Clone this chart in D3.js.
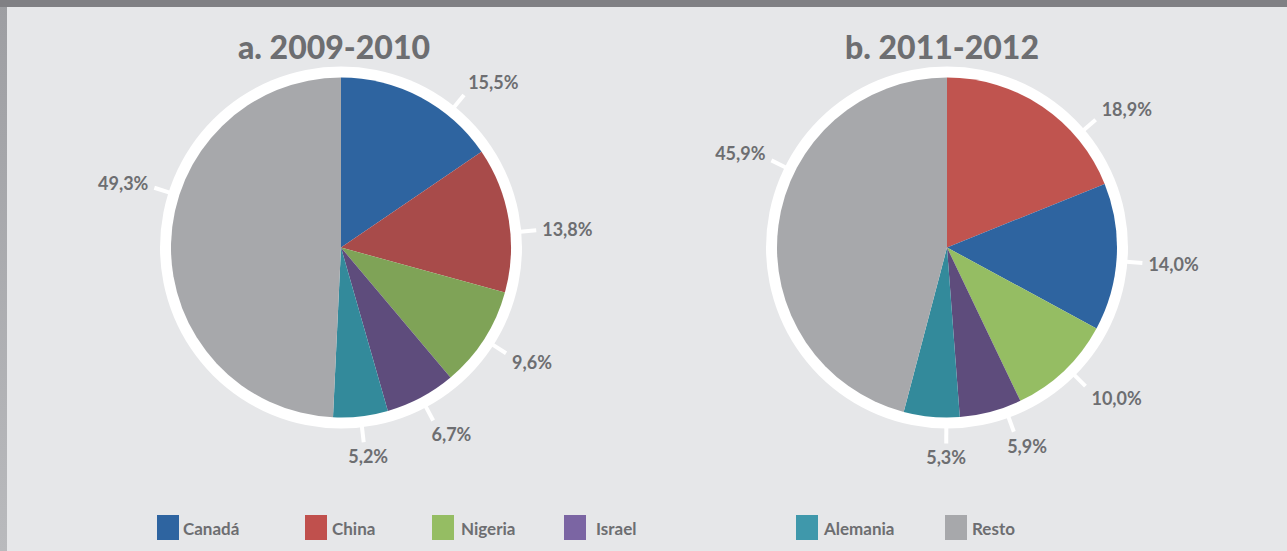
<!DOCTYPE html>
<html><head><meta charset="utf-8">
<script src="https://cdn.jsdelivr.net/npm/d3@7"></script>
<style>
html,body{margin:0;padding:0;background:#e6e7e9;}
svg{display:block;}
</style></head>
<body>
<svg id="chart" width="1287" height="551"></svg>
<script>
// ---- data ----
const categories = ["Canadá", "China", "Nigeria", "Israel", "Alemania", "Resto"];
const titleA = "a. 2009-2010";
const titleB = "b. 2011-2012";
// order of slices (clockwise from top) in each pie
const orderA = ["Canadá", "China", "Nigeria", "Israel", "Alemania", "Resto"];
const valuesA = [15.5, 13.8, 9.6, 6.7, 5.2, 49.3];
const labelsA = ["15,5%", "13,8%", "9,6%", "6,7%", "5,2%", "49,3%"];
const orderB = ["China", "Canadá", "Nigeria", "Israel", "Alemania", "Resto"];
const valuesB = [18.9, 14.0, 10.0, 5.9, 5.3, 45.9];
const labelsB = ["18,9%", "14,0%", "10,0%", "5,9%", "5,3%", "45,9%"];

// ---- styles / layout ----
const legendColors = {"Canadá":"#2e64a0","China":"#c0504d","Nigeria":"#95bd63","Israel":"#7b65a3","Alemania":"#3f98ab","Resto":"#a7a8ab"};
const colorsA = {"Canadá":"#2e64a0","China":"#a84b4a","Nigeria":"#7fa357","Israel":"#5e4c7c","Alemania":"#338a9b","Resto":"#a7a8ab"};
const colorsB = {"Canadá":"#2e64a0","China":"#c0544f","Nigeria":"#95bd63","Israel":"#5e4c7c","Alemania":"#338a9b","Resto":"#a7a8ab"};
const tickNudgeA = [11, 4.4, 0, 0, 0, 16.4];   // degrees, label tick offset from slice middle
const tickNudgeB = [15.3, 1.3, -1.4, -5, -5, 19];
const legendX = [157, 305, 432, 564, 796, 945];
const legendTextX = [183, 332, 461, 596, 824, 972];
const textColor = "#6d6e71";
const FONT = "Lato, 'Open Sans', sans-serif";

const svg = d3.select("#chart");
svg.append("rect").attr("width",1287).attr("height",551).attr("fill","#e6e7e9");
const grad = svg.append("defs").append("linearGradient").attr("id","lg").attr("x1",0).attr("x2",0).attr("y1",0).attr("y2",1);
grad.append("stop").attr("offset","0%").attr("stop-color","#9d9ea2");
grad.append("stop").attr("offset","100%").attr("stop-color","#b9babd");
svg.append("rect").attr("x",0).attr("y",0).attr("width",7).attr("height",551).attr("fill","url(#lg)");
svg.append("rect").attr("x",0).attr("y",0).attr("width",1287).attr("height",7).attr("fill","#808084");

const R = 170, RING = 181, TICK_END = 196;

function drawPie(cx, cy, title, titleX, order, values, labels, colors, nudge){
  const g = svg.append("g").attr("transform",`translate(${cx},${cy})`);
  svg.append("text").attr("x",titleX).attr("y",59).attr("text-anchor","middle")
    .attr("font-family",FONT).attr("font-weight",900).attr("font-size",32)
    .attr("fill",textColor).text(title);
  g.append("circle").attr("r",RING).attr("fill","#ffffff");
  const data = order.map((c,i)=>({cat:c, v:values[i], label:labels[i], nudge:nudge[i]}));
  const pie = d3.pie().value(d=>d.v).sort(null);
  const arc = d3.arc().innerRadius(0).outerRadius(R);
  const arcs = pie(data);
  g.selectAll("path.slice").data(arcs).join("path").attr("class","slice")
    .attr("d",arc).attr("fill",d=>colors[d.data.cat]);
  arcs.forEach(a=>{
    const th = (a.startAngle + a.endAngle)/2 + a.data.nudge*Math.PI/180;
    const s = Math.sin(th), c = -Math.cos(th);
    g.append("line").attr("x1",s*(RING-1)).attr("y1",c*(RING-1))
      .attr("x2",s*TICK_END).attr("y2",c*TICK_END)
      .attr("stroke","#ffffff").attr("stroke-width",4);
    const t = g.append("text").attr("font-family",FONT).attr("font-weight",700)
      .attr("font-size",18).attr("fill",textColor)
      .attr("text-anchor","middle").attr("dominant-baseline","central").text(a.data.label);
    const w = t.node().getComputedTextLength(), h = 16;
    const sx = Math.max(-1, Math.min(1, 1.5*s));
    const sy = Math.max(-1, Math.min(1, 1.2*c));
    t.attr("x", s*TICK_END + sx*(w/2+6)).attr("y", c*TICK_END + sy*(h/2+6));
  });
}

drawPie(341, 247.5, titleA, 334, orderA, valuesA, labelsA, colorsA, tickNudgeA);
drawPie(947, 247.5, titleB, 942, orderB, valuesB, labelsB, colorsB, tickNudgeB);

// legend
const lg = svg.append("g");
categories.forEach((c,i)=>{
  lg.append("rect").attr("x",legendX[i]).attr("y",515).attr("width",22).attr("height",25).attr("fill",legendColors[c]);
  lg.append("text").attr("x",legendTextX[i]).attr("y",528).attr("dominant-baseline","central")
    .attr("font-family",FONT).attr("font-weight",700).attr("font-size",17)
    .attr("fill",textColor).text(c);
});
</script>
</body></html>
